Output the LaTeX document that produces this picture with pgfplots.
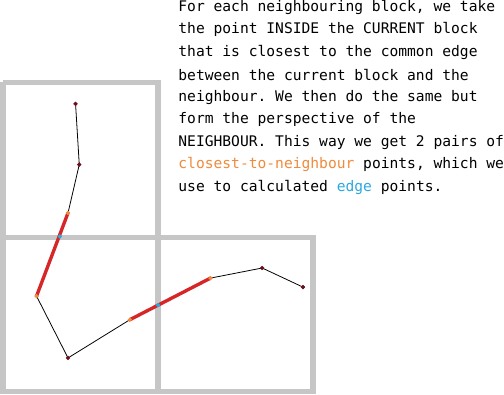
\documentclass[border=0pt]{standalone}
\usepackage{pgfplots}
\pgfplotsset{compat=1.18}
\usepackage{fontspec}
\setmonofont{DejaVu Sans Mono}
\definecolor{og}{HTML}{F08A3C}
\definecolor{bl}{HTML}{2AA8E0}
\definecolor{rd}{HTML}{D62728}
\definecolor{dk}{HTML}{6B0F1A}
\begin{document}
\begin{tikzpicture}
\begin{axis}[width=504pt,height=420pt,scale only axis,xmin=0,xmax=504,ymin=0,ymax=420,y dir=reverse,hide axis,clip=false]
\addplot[gray!45,line width=5pt] coordinates {(27,95)(165,95)(165,370)(27,370)(27,95)};
\addplot[gray!45,line width=5pt] coordinates {(27,233)(303,233)(303,370)(165,370)};
\addplot[black,line width=0.7pt] coordinates {(91.7,114)(95,168)(85,211)(57,285)(85,340)(140,306)(211.7,269)(257.7,260)(294,277)};
\addplot[rd,line width=3pt] coordinates {(85,211)(57,285)};
\addplot[rd,line width=3pt] coordinates {(140,306)(211.7,269)};
\addplot[only marks,mark=*,mark size=1.7pt,dk] coordinates {(91.7,114)(95,168)(85,340)(257.7,260)(294,277)};
\addplot[only marks,mark=*,mark size=1.7pt,og] coordinates {(85,211)(57,285)(140,306)(211.7,269)};
\addplot[only marks,mark=*,mark size=1.7pt,bl] coordinates {(77.7,232)(165,293)};
\tikzset{tl/.style={anchor=west,inner sep=0pt,font=\ttfamily\fontsize{13}{15}\selectfont}}
\node[tl] at (axis cs:183,28) {For each neighbouring block, we take};
\node[tl] at (axis cs:183,48) {the point INSIDE the CURRENT block};
\node[tl] at (axis cs:183,68) {that is closest to the common edge};
\node[tl] at (axis cs:183,88) {between the current block and the};
\node[tl] at (axis cs:183,108) {neighbour. We then do the same but};
\node[tl] at (axis cs:183,128) {form the perspective of the};
\node[tl] at (axis cs:183,148) {NEIGHBOUR. This way we get 2 pairs of};
\node[tl] at (axis cs:183,168) {\textcolor{og}{closest-to-neighbour} points, which we};
\node[tl] at (axis cs:183,188) {use to calculated \textcolor{bl}{edge} points.};
\end{axis}
\end{tikzpicture}
\end{document}
